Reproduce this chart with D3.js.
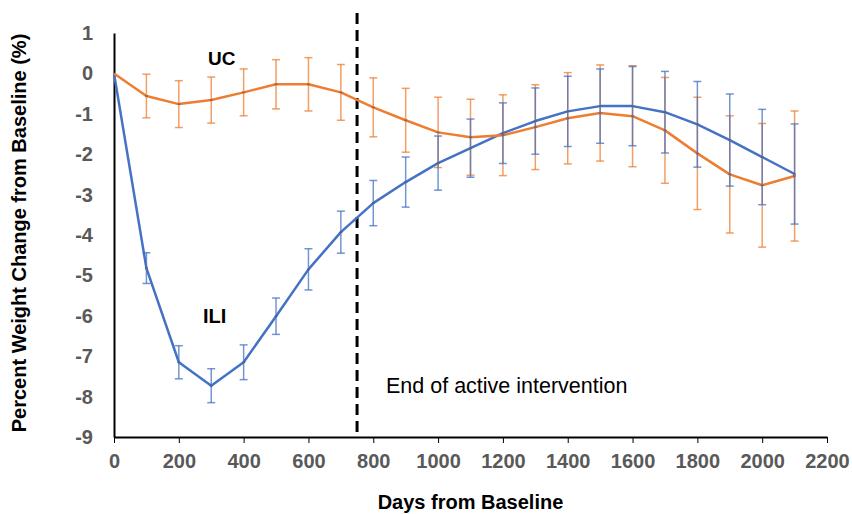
<!DOCTYPE html>
<html>
<head>
<meta charset="utf-8">
<script src="https://cdn.jsdelivr.net/npm/d3@7/dist/d3.min.js"></script>
<style>
  html, body { margin: 0; padding: 0; background: #fff; }
  svg { display: block; font-family: Arial, "Liberation Sans", sans-serif; }
</style>
</head>
<body>
<svg id="chart" width="852" height="514"></svg>
<script>
// ---- data ----
const days = [0,100,200,300,400,500,600,700,800,900,1000,1100,1200,1300,1400,1500,1600,1700,1800,1900,2000,2100];
const iliMean = [0,-4.82,-7.15,-7.73,-7.15,-6.01,-4.85,-3.93,-3.21,-2.69,-2.22,-1.85,-1.48,-1.18,-0.94,-0.81,-0.81,-0.96,-1.26,-1.65,-2.07,-2.49];
const iliErr  = [0,0.38,0.41,0.42,0.43,0.45,0.51,0.52,0.56,0.62,0.67,0.72,0.75,0.82,0.87,0.92,0.98,1.01,1.06,1.14,1.18,1.24];
const ucMean  = [0,-0.56,-0.76,-0.66,-0.47,-0.27,-0.27,-0.47,-0.84,-1.16,-1.46,-1.58,-1.53,-1.33,-1.11,-0.98,-1.06,-1.41,-1.98,-2.50,-2.77,-2.54];
const ucErr   = [0,0.54,0.58,0.57,0.58,0.61,0.66,0.69,0.73,0.79,0.87,0.94,1.00,1.05,1.13,1.19,1.25,1.31,1.39,1.45,1.53,1.61];
const xTicks = [0,200,400,600,800,1000,1200,1400,1600,1800,2000,2200];
const yTicks = [-9,-8,-7,-6,-5,-4,-3,-2,-1,0,1];
const interventionEnd = 750;
const xTitle = "Days from Baseline";
const yTitle = "Percent Weight Change from Baseline (%)";
const annotation = "End of active intervention";

// ---- layout ----
const svg = d3.select("#chart");
const x = d3.scaleLinear().domain([0, 2200]).range([114, 827]);
const y = d3.scaleLinear().domain([-9, 1]).range([437, 33]);
const BLUE = "#4472C4", ORANGE = "#ED7D31";
const fmt = d => String(d);

// y axis
const yAxis = svg.append("g").attr("transform", `translate(${x(0)},0)`)
  .call(d3.axisLeft(y).tickValues(yTicks).tickSize(0).tickPadding(21).tickFormat(fmt));
yAxis.select(".domain").attr("stroke", "#000").attr("stroke-width", 2);
yAxis.selectAll("text").attr("fill", "#595959").style("font-size", "20px").style("font-weight", "bold")
  .style("font-family", "Arial, 'Liberation Sans', sans-serif");

// x axis
const xAxis = svg.append("g").attr("transform", `translate(0,${y(-9)})`)
  .call(d3.axisBottom(x).tickValues(xTicks).tickSize(6).tickSizeOuter(0).tickPadding(11).tickFormat(fmt));
xAxis.select(".domain").attr("stroke", "#000").attr("stroke-width", 2);
xAxis.selectAll(".tick line").attr("stroke", "#000").attr("stroke-width", 1);
xAxis.selectAll("text").attr("fill", "#595959").style("font-size", "20px").style("font-weight", "bold")
  .style("font-family", "Arial, 'Liberation Sans', sans-serif");

// dashed line
svg.append("line")
  .attr("x1", x(interventionEnd)).attr("x2", x(interventionEnd))
  .attr("y1", 13).attr("y2", y(-9))
  .attr("stroke", "#000").attr("stroke-width", 3).attr("stroke-dasharray", "11,6");

// lines
const line = d3.line().x((d, i) => x(days[i])).y(d => y(d));
svg.append("path").datum(iliMean).attr("d", line)
  .attr("fill", "none").attr("stroke", BLUE).attr("stroke-width", 2.5).attr("stroke-linejoin", "round");
svg.append("path").datum(ucMean).attr("d", line)
  .attr("fill", "none").attr("stroke", ORANGE).attr("stroke-width", 2.5).attr("stroke-linejoin", "round");

// error bars
function errorBars(means, errs, color) {
  const g = svg.append("g").attr("stroke", color).attr("stroke-width", 1.5).attr("stroke-opacity", 0.75);
  days.forEach((d, i) => {
    if (errs[i] <= 0) return;
    const cx = x(d), y1 = y(means[i] + errs[i]), y2 = y(means[i] - errs[i]);
    g.append("line").attr("x1", cx).attr("x2", cx).attr("y1", y1).attr("y2", y2);
    g.append("line").attr("x1", cx - 4).attr("x2", cx + 4).attr("y1", y1).attr("y2", y1);
    g.append("line").attr("x1", cx - 4).attr("x2", cx + 4).attr("y1", y2).attr("y2", y2);
    g.append("line").attr("x1", cx - 1.5).attr("x2", cx + 1.5).attr("y1", y(means[i])).attr("y2", y(means[i]))
      .attr("stroke", "#555").attr("stroke-opacity", 0.6);
  });
}
errorBars(ucMean, ucErr, ORANGE);
errorBars(iliMean, iliErr, BLUE);

// labels
svg.append("text").attr("x", 208).attr("y", 65).text("UC")
  .style("font-size", "19px").style("font-weight", "bold").attr("fill", "#000");
svg.append("text").attr("x", 203).attr("y", 323).text("ILI")
  .style("font-size", "20px").style("font-weight", "bold").attr("fill", "#000");
svg.append("text").attr("x", 386).attr("y", 393).text(annotation)
  .style("font-size", "21.5px").attr("fill", "#000");

// axis titles
svg.append("text").attr("x", (x(0) + x(2200)) / 2).attr("y", 509).attr("text-anchor", "middle")
  .text(xTitle).style("font-size", "20px").style("font-weight", "bold").attr("fill", "#000");
svg.append("text").attr("transform", "translate(26,233) rotate(-90)").attr("text-anchor", "middle")
  .text(yTitle).style("font-size", "20px").style("font-weight", "bold").attr("fill", "#000");
</script>
</body>
</html>
